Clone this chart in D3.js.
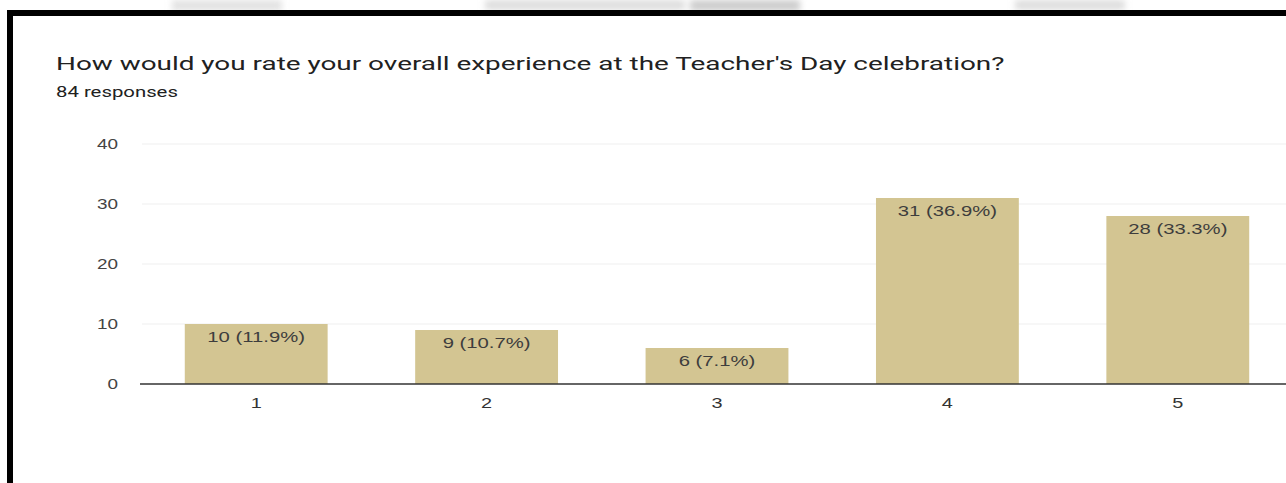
<!DOCTYPE html>
<html><head><meta charset="utf-8">
<script src="https://cdn.jsdelivr.net/npm/d3@7"></script>
<style>html,body{margin:0;padding:0;background:#fff;overflow:hidden}</style>
</head><body>
<svg id="c" width="1286" height="483"></svg>
<script>
const categories = ["1", "2", "3", "4", "5"];
const counts = [10, 9, 6, 31, 28];
const percents = ["11.9%", "10.7%", "7.1%", "36.9%", "33.3%"];
const yTicks = [0, 10, 20, 30, 40];
const titleText = "How would you rate your overall experience at the Teacher's Day celebration?";
const subtitleText = "84 responses";

const svg = d3.select("#c");
const W = 1286, H = 483;

// faint blurred blobs above the frame
const defs = svg.append("defs");
defs.append("filter").attr("id", "blur").append("feGaussianBlur").attr("stdDeviation", 3);
const blobs = svg.append("g").attr("filter", "url(#blur)").attr("fill", "#c8c8c8");
[[172, 0, 110, 11, 0.5], [485, 0, 200, 10, 0.6], [690, 0, 110, 11, 0.9], [1015, 0, 110, 10, 0.6]].forEach(b =>
  blobs.append("rect").attr("x", b[0]).attr("y", b[1]).attr("width", b[2]).attr("height", b[3]).attr("opacity", b[4]));

const x = d3.scaleBand().domain(categories).range([141, 1293]).paddingInner(0.38).paddingOuter(0.19);
const y = d3.scaleLinear().domain([0, 40]).range([384, 144]);

const FONT = "'Liberation Sans', Arial, sans-serif";
const TFONT = "Roboto, 'Liberation Sans', sans-serif";

// title & measure stretch
const title = svg.append("text").attr("font-family", TFONT)
  .attr("font-size", 19).attr("fill", "#212121").text(titleText);
const sxTitle = 949 / title.node().getComputedTextLength();
title.attr("transform", `translate(56,70) scale(${sxTitle},1)`);
const sx = 1.42;

function stext(px, py, txt, opts) {
  const t = svg.append("text")
    .attr("font-family", opts.family || FONT)
    .attr("font-size", opts.size || 14)
    .attr("fill", opts.fill || "#333")
    .attr("text-anchor", opts.anchor || "start")
    .attr("dy", opts.dy || 0)
    .text(txt);
  let s = opts.sx || sx;
  if (opts.fitWidth) s = opts.fitWidth / t.node().getComputedTextLength();
  t.attr("transform", `translate(${px},${py}) scale(${s},1)`);
  return t;
}

stext(56, 97, subtitleText, {family: TFONT, size: 14.5, fill: "#212121", fitWidth: 122});

// gridlines
svg.append("g").selectAll("line").data(yTicks.filter(d => d > 0)).join("line")
  .attr("x1", 142).attr("x2", W).attr("y1", d => y(d)).attr("y2", d => y(d))
  .attr("stroke", "#efefef").attr("stroke-width", 1);

// y tick labels
yTicks.forEach(t => stext(118, y(t), String(t), {anchor: "end", dy: "0.35em", fill: "#444", sx: 1.35}));

// bars
svg.append("g").selectAll("rect").data(counts).join("rect")
  .attr("x", (d, i) => x(categories[i]))
  .attr("y", d => y(d))
  .attr("width", x.bandwidth())
  .attr("height", d => y(0) - y(d))
  .attr("fill", "#d3c592");

// bar labels
counts.forEach((d, i) => stext(x(categories[i]) + x.bandwidth() / 2, y(d) + 18, `${d} (${percents[i]})`, {anchor: "middle", fill: "#3d3d3d", sx: 1.45}));

// axis line
svg.append("line").attr("x1", 140).attr("x2", W).attr("y1", y(0)).attr("y2", y(0))
  .attr("stroke", "#333").attr("stroke-width", 1.5);

// x labels
categories.forEach(c => stext(x(c) + x.bandwidth() / 2, 408, c, {anchor: "middle", fill: "#333"}));

// frame
svg.append("rect").attr("x", 7).attr("y", 10).attr("width", W - 7).attr("height", 6).attr("fill", "#000");
svg.append("rect").attr("x", 7).attr("y", 10).attr("width", 6).attr("height", H - 10).attr("fill", "#000");
</script>
</body></html>
